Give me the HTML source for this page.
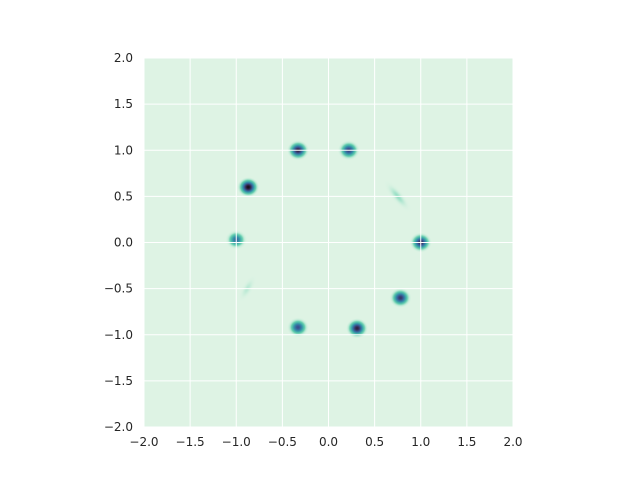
<!DOCTYPE html>
<html><head><meta charset="utf-8"><style>
body{margin:0;background:#fff}
svg{display:block}
text{font-family:"DejaVu Sans","Liberation Sans",sans-serif;font-size:12px;fill:#262626}
</style></head><body>
<svg id="chart" width="640" height="480">
<defs id="defs"></defs>
<rect x="144" y="58" width="369" height="369" fill="#def3e4"/>
<g id="blobs"></g>
<g id="grid"></g>
<g id="ticks"></g>
</svg>
<script>
const blobX=[-0.33,0.22,-0.87,-1.0,1.0,0.78,0.31,-0.33,0.75,-0.88];
const blobY=[1.0,1.0,0.6,0.03,0.0,-0.6,-0.93,-0.92,0.5,-0.5];
const blobDensity=[0.85,0.7,0.95,0.55,0.8,0.75,0.85,0.65,0.14,0.1];
const blobSpread=[1,1,1,1,1,1,1,1,1.5,1.2];
const blobAngle=[0,0,0,0,0,0,0,0,50,-60];
const xTicks=[-2,-1.5,-1,-0.5,0,0.5,1,1.5,2];
const yTicks=[-2,-1.5,-1,-0.5,0,0.5,1,1.5,2];
const X0=144,X1=513,Y0=427,Y1=58;
const sx=v=>X0+(v+2)/4*(X1-X0);
const sy=v=>Y0-(v+2)/4*(Y0-Y1);
const NS="http://www.w3.org/2000/svg";
const mako=[[0,[222,245,229]],[0.2,[96,206,172]],[0.4,[52,151,169]],[0.6,[57,93,156]],[0.8,[56,42,84]],[1,[11,4,5]]];
function col(d){d=Math.max(0,Math.min(1,d));for(let i=1;i<mako.length;i++){if(d<=mako[i][0]){const a=mako[i-1],b=mako[i];const t=(d-a[0])/(b[0]-a[0]);return 'rgb('+a[1].map((c,k)=>Math.round(c+(b[1][k]-c)*t)).join(',')+')';}}return 'rgb(11,4,5)';}
const defs=document.getElementById('defs'),bl=document.getElementById('blobs');
blobX.forEach((x,i)=>{
 const g=document.createElementNS(NS,'radialGradient');g.setAttribute('id','g'+i);
 for(let s=0;s<=10;s++){const t=s/10;const d=blobDensity[i]*Math.exp(-(t*2.6)*(t*2.6)/2);
  const st=document.createElementNS(NS,'stop');st.setAttribute('offset',t);st.setAttribute('stop-color',col(d));
  st.setAttribute('stop-opacity',s==10?0:Math.min(1,d*6));g.appendChild(st);}
 defs.appendChild(g);
 const e=document.createElementNS(NS,'ellipse');
 
 
 const cx=sx(x),cy=sy(blobY[i]);
 e.setAttribute('cx',cx);e.setAttribute('cy',cy);
 e.setAttribute('rx',11*blobSpread[i]*(blobAngle[i]?1.4:1));e.setAttribute('ry',10*(blobAngle[i]?0.7:1));
 e.setAttribute('transform','rotate('+blobAngle[i]+' '+cx+' '+cy+')');
 e.setAttribute('fill','url(#g'+i+')');bl.appendChild(e);
});
const gr=document.getElementById('grid'),tk=document.getElementById('ticks');
xTicks.forEach(v=>{
 const l=document.createElementNS(NS,'line');
 
 
 l.setAttribute('x1',sx(v));l.setAttribute('x2',sx(v));l.setAttribute('y1',Y1);l.setAttribute('y2',Y0);
 l.setAttribute('stroke','#fff');l.setAttribute('stroke-width',1);gr.appendChild(l);
 const t=document.createElementNS(NS,'text');
 
 
 t.setAttribute('x',sx(v));t.setAttribute('y',446);t.setAttribute('text-anchor','middle');
 t.textContent=(v<0?'\u2212':'')+Math.abs(v).toFixed(1);tk.appendChild(t);
});
yTicks.forEach(v=>{
 const l=document.createElementNS(NS,'line');
 
 
 l.setAttribute('y1',sy(v));l.setAttribute('y2',sy(v));l.setAttribute('x1',X0);l.setAttribute('x2',X1);
 l.setAttribute('stroke','#fff');l.setAttribute('stroke-width',1);gr.appendChild(l);
 const t=document.createElementNS(NS,'text');
 
 
 t.setAttribute('x',133);t.setAttribute('y',sy(v)+4);t.setAttribute('text-anchor','end');
 t.textContent=(v<0?'\u2212':'')+Math.abs(v).toFixed(1);tk.appendChild(t);
});
</script>
</body></html>
